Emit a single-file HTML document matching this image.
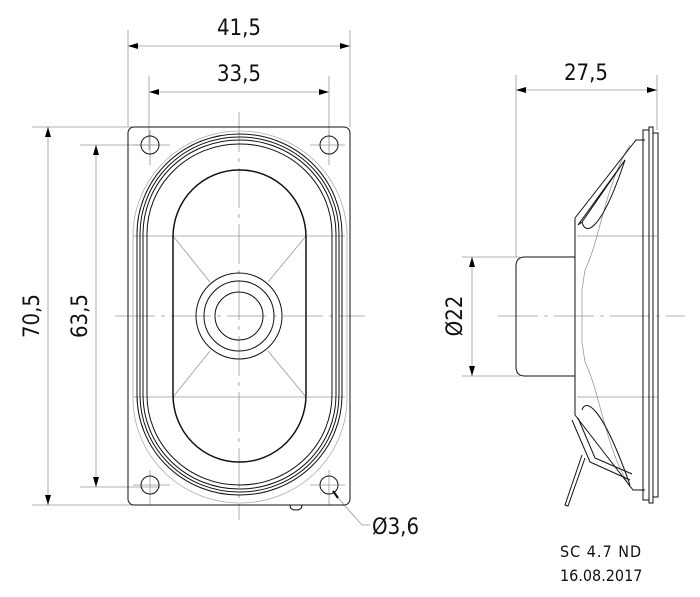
<!DOCTYPE html>
<html><head><meta charset="utf-8"><style>
html,body{margin:0;padding:0;background:#fff}
svg{display:block}
text{font-family:"DejaVu Sans Condensed","DejaVu Sans","Liberation Sans",sans-serif;fill:#111}
</style></head><body>
<svg width="700" height="597" viewBox="0 0 700 597" xmlns="http://www.w3.org/2000/svg">
<defs>
<marker id="a" viewBox="0 0 10 6" refX="10" refY="3" markerWidth="10" markerHeight="6" orient="auto-start-reverse" markerUnits="userSpaceOnUse"><path d="M0,0 L10,3 L0,6z" fill="#000"/></marker>
</defs>
<g fill="none" stroke="#999" stroke-width="0.8">
<line x1="128" y1="30" x2="128" y2="127"/><line x1="350" y1="30" x2="350" y2="127"/>
<line x1="149" y1="76" x2="149" y2="150"/><line x1="329" y1="76" x2="329" y2="150"/>
<line x1="32" y1="127" x2="135" y2="127"/><line x1="32" y1="505" x2="135" y2="505"/>
<line x1="80" y1="145" x2="160" y2="145"/><line x1="80" y1="487" x2="160" y2="487"/>
<line x1="516" y1="75" x2="516" y2="257"/><line x1="657" y1="75" x2="657" y2="130"/>
<line x1="462" y1="257" x2="520" y2="257"/><line x1="462" y1="376" x2="520" y2="376"/>
<line x1="128" y1="46" x2="350" y2="46" marker-start="url(#a)" marker-end="url(#a)"/>
<line x1="149" y1="92" x2="329" y2="92" marker-start="url(#a)" marker-end="url(#a)"/>
<line x1="48" y1="127" x2="48" y2="505" marker-start="url(#a)" marker-end="url(#a)"/>
<line x1="96" y1="145" x2="96" y2="487" marker-start="url(#a)" marker-end="url(#a)"/>
<line x1="516" y1="90" x2="657" y2="90" marker-start="url(#a)" marker-end="url(#a)"/>
<line x1="472" y1="257" x2="472" y2="376" marker-start="url(#a)" marker-end="url(#a)"/>
<line x1="239" y1="112" x2="239" y2="520" stroke-dasharray="40,6,4,6"/>
<line x1="115" y1="316" x2="365" y2="316" stroke-dasharray="40,6,4,6"/>
<line x1="498" y1="316" x2="685" y2="316" stroke-dasharray="40,6,4,6"/>
<line x1="133" y1="145" x2="170" y2="145"/><line x1="310" y1="145" x2="345" y2="145"/>
<line x1="133" y1="485" x2="170" y2="485"/><line x1="310" y1="485" x2="345" y2="485"/>
<line x1="150" y1="130" x2="150" y2="165"/><line x1="329" y1="130" x2="329" y2="165"/>
<line x1="150" y1="470" x2="150" y2="505"/><line x1="329" y1="470" x2="329" y2="505"/>
<line x1="133" y1="236" x2="345" y2="236"/><line x1="133" y1="397" x2="345" y2="397"/>
<line x1="173" y1="236" x2="210" y2="282"/><line x1="306" y1="236" x2="268" y2="282"/>
<line x1="173" y1="397" x2="210" y2="351"/><line x1="306" y1="397" x2="268" y2="351"/>
<polyline points="338,498 362,525 370,525"/>
<line x1="577" y1="236" x2="657" y2="236"/><line x1="577" y1="397" x2="657" y2="397"/>
<path d="M630,145 C605,185 600,240 585,270 L582,290 L582,342 L585,362 C600,392 605,447 630,487"/>
<rect x="133" y="131" width="214" height="372" rx="107" ry="105" stroke="#aaa"/>
</g>
<line x1="338" y1="498" x2="333" y2="491" stroke="#000" stroke-width="2"/>
<g fill="none" stroke="#111" stroke-width="1">
<rect x="128" y="127" width="222" height="378" rx="6"/>
<circle cx="150" cy="145" r="9"/><circle cx="329" cy="145" r="9"/>
<circle cx="150" cy="485" r="9"/><circle cx="329" cy="485" r="9"/>
<rect x="137" y="134" width="205" height="361" rx="102" ry="100"/>
<rect x="140" y="137" width="199" height="355" rx="99" ry="97"/>
<rect x="143" y="140" width="193" height="349" rx="96" ry="94"/>
<rect x="147" y="144" width="185" height="341" rx="92" ry="90"/>
<rect x="173" y="170" width="133" height="292" rx="66" ry="67" stroke-width="1.5"/>
<circle cx="239" cy="316" r="43"/><circle cx="239" cy="316" r="35"/><circle cx="239" cy="316" r="24"/>
<path d="M290,505 q0,5 6,5 q6,0 6,-5"/>
<path d="M575,257 L525,257 Q516,257 516,266 L516,367 Q516,376 525,376 L575,376"/>
<line x1="575" y1="218" x2="575" y2="415"/>
<path d="M575,218 L636,140 L645,140"/>
<path d="M578,225 L625,160 L582,222 Z"/>
<path d="M582,222 C585,235 600,235 625,160"/>
<path d="M575,415 L633,490 L645,490"/>
<path d="M582,410 C585,400 600,400 630,485"/>
<rect x="643" y="130" width="6" height="370"/>
<rect x="649" y="127" width="4" height="376"/>
<rect x="653" y="133" width="5" height="364"/>
<path d="M572,420 L590,462 L630,480"/>
<path d="M578,418 L595,458 L632,474"/>
<path d="M582,455 L565,505 L568,506 L585,458"/>
</g>
<text x="239" y="35" font-size="22" text-anchor="middle">41,5</text>
<text x="239" y="81" font-size="22" text-anchor="middle">33,5</text>
<text x="586" y="80" font-size="22" text-anchor="middle">27,5</text>
<text transform="translate(39,316) rotate(-90)" font-size="22" text-anchor="middle">70,5</text>
<text transform="translate(87,316) rotate(-90)" font-size="22" text-anchor="middle">63,5</text>
<text transform="translate(462,316) rotate(-90)" font-size="22" text-anchor="middle">Ø22</text>
<text x="372" y="534" font-size="22">Ø3,6</text>
<text x="560" y="557" font-size="16" letter-spacing="1">SC 4.7 ND</text>
<text x="560" y="581" font-size="16">16.08.2017</text>
</svg>
</body></html>
